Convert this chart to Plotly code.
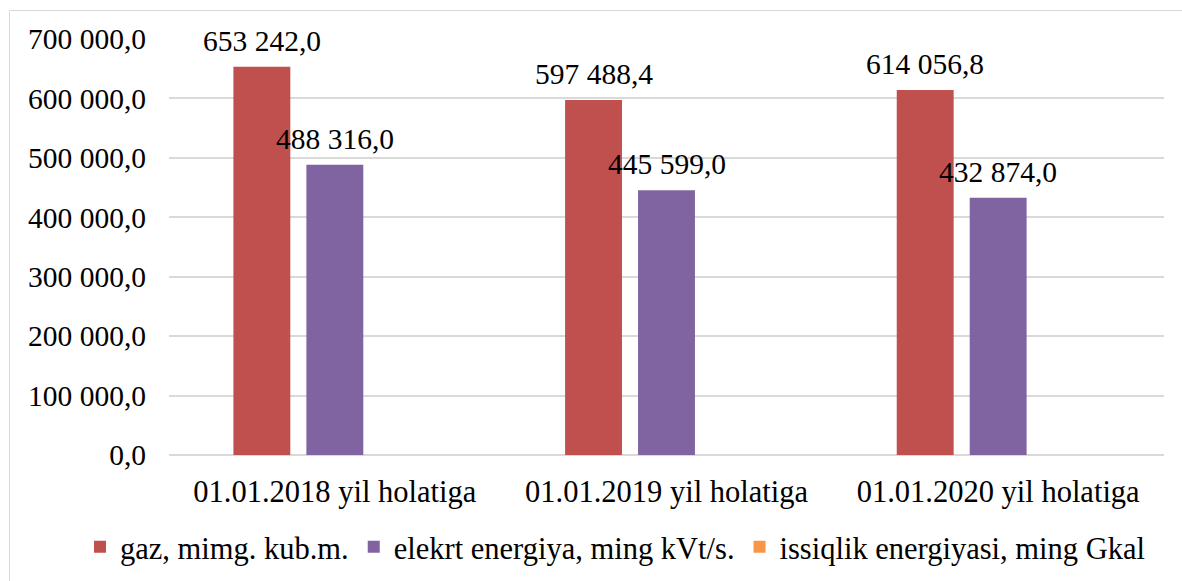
import plotly.graph_objects as go

categories = ["01.01.2018 yil holatiga", "01.01.2019 yil holatiga", "01.01.2020 yil holatiga"]
series_names = ["gaz, mimg. kub.m.", "elekrt energiya, ming kVt/s.", "issiqlik energiyasi, ming Gkal"]
gaz = [653242.0, 597488.4, 614056.8]
elektr = [488316.0, 445599.0, 432874.0]
issiqlik = [None, None, None]
y_ticks = [0, 100000, 200000, 300000, 400000, 500000, 600000, 700000]

colors = ["#C0504D", "#8064A2", "#F79646"]
W, H = 1182, 581
L, R, T, B = 169, 18, 39, 126
FONT = "Liberation Serif"
FS = 29.5
FS_CAT = 30.5
bargap = 0.34
bargroupgap = 0.22

fig = go.Figure()
all_series = [gaz, elektr, issiqlik]
for name, vals, c in zip(series_names, all_series, colors):
    fig.add_trace(go.Bar(x=categories, y=vals, name=name, marker_color=c,
                         marker_line_width=0, hoverinfo="skip"))


def fmt(v):
    return f"{v:,.1f}".replace(",", " ").replace(".", ",")


plot_w = W - L - R
plot_h = H - T - B
slot = plot_w / len(categories) * (1 - bargap) / len(all_series)
for si, vals in enumerate(all_series):
    for cat, v in zip(categories, vals):
        if v is None:
            continue
        fig.add_annotation(x=cat, y=v, text=fmt(v), showarrow=False,
                           xshift=(si - 1) * slot, yshift=26, yanchor="middle",
                           font=dict(family=FONT, size=FS, color="black"))

fig.add_shape(type="rect", xref="paper", yref="paper",
              x0=(9.5 - L) / plot_w, x1=(W + 5 - L) / plot_w,
              y0=(H - B - (H + 5)) / plot_h, y1=(H - B - 10.5) / plot_h,
              line=dict(color="#D9D9D9", width=1), fillcolor="rgba(0,0,0,0)", layer="below")

fig.update_layout(
    width=W, height=H, autosize=False,
    margin=dict(l=L, r=R, t=T, b=B, autoexpand=False),
    paper_bgcolor="white", plot_bgcolor="white",
    barmode="group", bargap=bargap, bargroupgap=bargroupgap,
    separators=", ",
    font=dict(family=FONT, size=FS, color="black"),
    showlegend=True,
    legend=dict(orientation="h", xref="paper", yref="paper",
                x=(80 - L) / plot_w, xanchor="left",
                y=(H - B - 547) / plot_h, yanchor="middle",
                bgcolor="rgba(0,0,0,0)",
                font=dict(family=FONT, size=FS_CAT, color="black"),
                itemwidth=30, tracegroupgap=0),
    xaxis=dict(showgrid=False, showline=False, ticks="", ticklabelstandoff=15,
               tickfont=dict(family=FONT, size=FS_CAT)),
    yaxis=dict(range=[0, 700000], tickvals=y_ticks, tickformat=",.1f",
               showgrid=True, gridcolor="#D9D9D9", gridwidth=1.5,
               zeroline=True, zerolinecolor="#D9D9D9", zerolinewidth=1.5,
               showline=False, ticks="", ticklabelstandoff=22,
               tickfont=dict(family=FONT, size=FS)),
)

fig.write_html("out.html", config={"displayModeBar": False},
               post_script="document.body.style.margin='0';document.body.style.overflow='hidden';")
